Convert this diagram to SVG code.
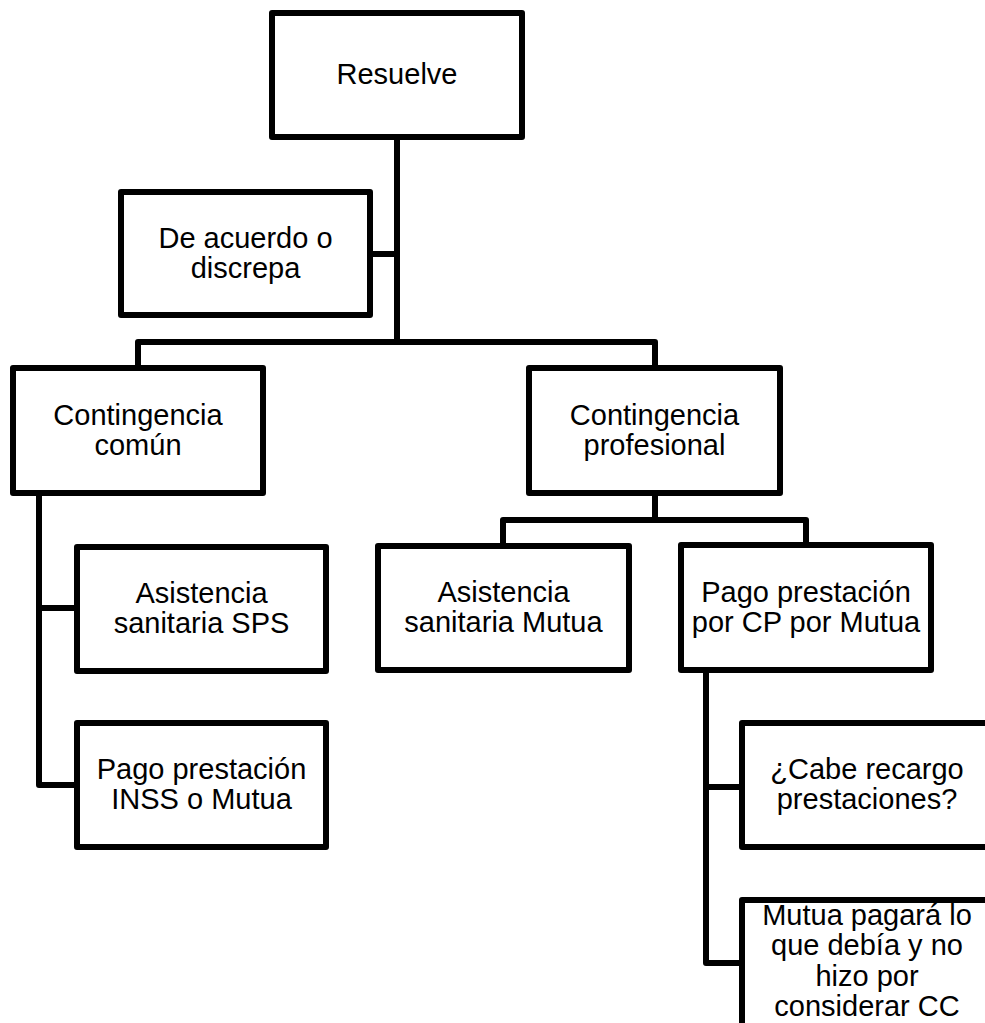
<svg xmlns="http://www.w3.org/2000/svg" width="985" height="1023" viewBox="0 0 985 1023">
<style>
.box{fill:#fff;stroke:#000;stroke-width:6;stroke-linejoin:round}
.con{fill:none;stroke:#000;stroke-width:6;stroke-linejoin:round;stroke-linecap:square}
text{font-family:"Liberation Sans",Arial,sans-serif;font-size:29px;fill:#000;text-anchor:middle}
</style>
<rect width="985" height="1023" fill="#fff"/>
<g id="connectors">
<path class="con" d="M397 137 V342"/>
<path class="con" d="M370 254 H397"/>
<path class="con" d="M138 368 V342 H655 V368"/>
<path class="con" d="M39 493 V785 H77"/>
<path class="con" d="M39 608 H77"/>
<path class="con" d="M655 493 V520"/>
<path class="con" d="M503 546 V520 H806 V545"/>
<path class="con" d="M706 670 V963 H742"/>
<path class="con" d="M706 787 H742"/>
</g>
<g id="n-resuelve">
<rect class="box" x="272" y="13" width="250" height="124"/>
<text x="397" y="84">Resuelve</text>
</g>
<g id="n-acuerdo">
<rect class="box" x="121" y="192" width="249" height="123"/>
<text x="245.5" y="248">De acuerdo o</text>
<text x="245.5" y="278">discrepa</text>
</g>
<g id="n-comun">
<rect class="box" x="13" y="368" width="250" height="125"/>
<text x="138" y="425">Contingencia</text>
<text x="138" y="455">común</text>
</g>
<g id="n-profesional">
<rect class="box" x="529" y="368" width="251" height="125"/>
<text x="654.5" y="425">Contingencia</text>
<text x="654.5" y="455">profesional</text>
</g>
<g id="n-asist-sps">
<rect class="box" x="77" y="547" width="249" height="124"/>
<text x="201.5" y="603">Asistencia</text>
<text x="201.5" y="633">sanitaria SPS</text>
</g>
<g id="n-pago-inss">
<rect class="box" x="77" y="723" width="249" height="124"/>
<text x="201.5" y="779">Pago prestación</text>
<text x="201.5" y="809">INSS o Mutua</text>
</g>
<g id="n-asist-mutua">
<rect class="box" x="378" y="546" width="251" height="124"/>
<text x="503.5" y="602">Asistencia</text>
<text x="503.5" y="632">sanitaria Mutua</text>
</g>
<g id="n-pago-cp">
<rect class="box" x="681" y="545" width="250" height="125"/>
<text x="806" y="602">Pago prestación</text>
<text x="806" y="632">por CP por Mutua</text>
</g>
<g id="n-recargo">
<rect class="box" x="742" y="723" width="250" height="124"/>
<text x="867" y="779">¿Cabe recargo</text>
<text x="867" y="809">prestaciones?</text>
</g>
<g id="n-mutua-pagara">
<rect class="box" x="742" y="900" width="250" height="150"/>
<text x="867" y="925">Mutua pagará lo</text>
<text x="867" y="955">que debía y no</text>
<text x="867" y="986">hizo por</text>
<text x="867" y="1016">considerar CC</text>
</g>
</svg>
